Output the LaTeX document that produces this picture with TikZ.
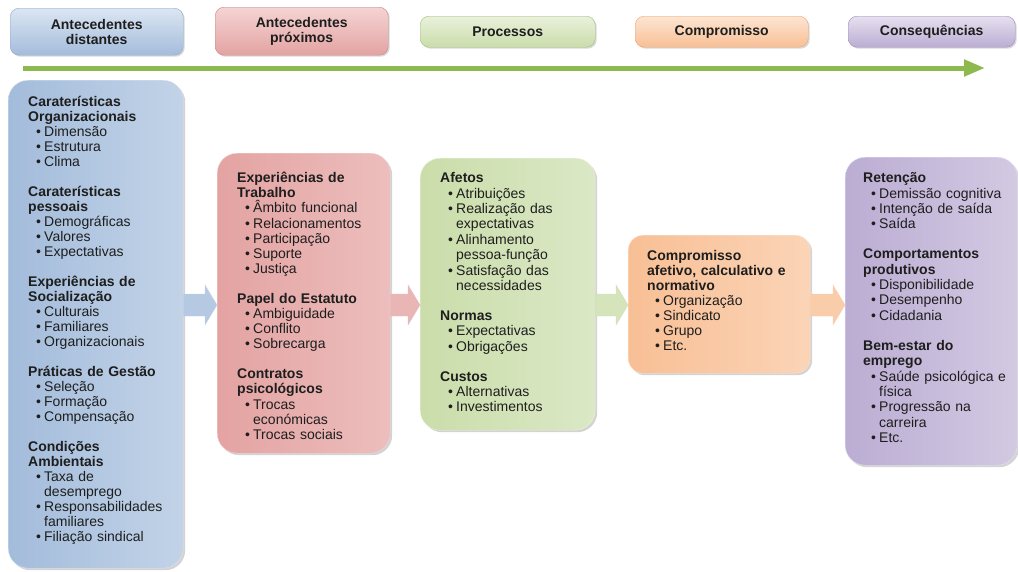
\documentclass[tikz,border=0pt]{standalone}
\usepackage{fontspec}
\setmainfont{Liberation Sans}
\usetikzlibrary{arrows.meta,shadows,calc}
\definecolor{blueD}{HTML}{A3BCDB}
\definecolor{blueL}{HTML}{DCE6F2}
\definecolor{blueB}{HTML}{8EA9CE}
\definecolor{redD}{HTML}{E3A3A2}
\definecolor{redL}{HTML}{F4D4D3}
\definecolor{redB}{HTML}{C98584}
\definecolor{grnD}{HTML}{CADDAA}
\definecolor{grnL}{HTML}{E9F1DC}
\definecolor{grnB}{HTML}{A4BF7A}
\definecolor{orgD}{HTML}{F8BF95}
\definecolor{orgL}{HTML}{FDE5D2}
\definecolor{orgB}{HTML}{EFA672}
\definecolor{purD}{HTML}{BBADD3}
\definecolor{purL}{HTML}{E6E0EF}
\definecolor{purB}{HTML}{9D8DBE}
\definecolor{tline}{HTML}{8DB94F}
\definecolor{ink}{HTML}{1E1E1E}
\setlength{\parindent}{0pt}
\setlength{\parskip}{0pt}
\newcommand{\secgap}{14.5pt}
\newcommand{\hd}[1]{\par\strut\textbf{#1}\par}
\newcommand{\sect}[1]{\par\vspace{\secgap}\hd{#1}}
\newcommand{\bu}[1]{{\leftskip=8pt\hangindent=8pt\hangafter=1\makebox[8pt][l]{\textbullet}#1\par}}
\begin{document}
\begin{tikzpicture}[x=1pt,y=-1pt,
        hdr/.style={rectangle,rounded corners=9pt,draw=#1B,top color=#1L,bottom color=#1D,
            drop shadow={shadow xshift=1.5pt,shadow yshift=-1.5pt,opacity=.3},
            anchor=north west,inner sep=0pt,align=center,text=ink,
            font=\bfseries\fontsize{14}{15.4}\selectfont},
        col/.style={rectangle,rounded corners=20pt,draw=#1L,left color=#1D,right color=#1L!55!#1D,
            drop shadow={shadow xshift=2pt,shadow yshift=-2pt,opacity=.35},
            anchor=north west,inner sep=0pt},
        txt/.style={anchor=north west,inner sep=0pt,text width=170pt,align=left,text=ink,
            font=\fontsize{14}{15.4}\selectfont},
        blkarr/.style={draw=#1B!50,top color=#1D!80,middle color=#1L!70,bottom color=#1D!80}]
    \useasboundingbox (0,0) rectangle (1018,571);
    \node[hdr=blue,minimum width=173pt,minimum height=47pt] (hDist) at (10,8) {Antecedentes\\distantes};
    \node[hdr=red,minimum width=173pt,minimum height=48pt] (hProx) at (215,7) {Antecedentes\\próximos};
    \node[hdr=grn,minimum width=175pt,minimum height=31pt] (hProc) at (420,16) {Processos};
    \node[hdr=org,minimum width=173pt,minimum height=31pt] (hComp) at (635,16) {Compromisso};
    \node[hdr=pur,minimum width=167pt,minimum height=31pt] (hCons) at (848,16) {Consequências};
    \coordinate (tlStart) at (23,68);
    \coordinate (tlEnd) at (985,68);
    \draw[tline,line width=5pt,-{Triangle[length=21pt,width=16pt]}] (tlStart) -- (tlEnd);
    \node[col=blue,minimum width=175pt,minimum height=488pt] (distBox) at (8,80) {};
    \node[col=red,minimum width=173pt,minimum height=300pt] (proxBox) at (217,153) {};
    \node[col=grn,minimum width=175pt,minimum height=272pt] (procBox) at (420,158) {};
    \node[col=org,rounded corners=15pt,minimum width=182pt,minimum height=138pt] (compBox) at (628,235) {};
    \node[col=pur,minimum width=172pt,minimum height=308pt] (consBox) at (845,157) {};
    \coordinate (axis) at (0,305);
    \draw[blkarr=blue] let \p1=(distBox.east |- axis), \p2=(proxBox.west |- axis) in (\x1,{\y1+11pt}) -- ({\x2-12pt},{\y1+11pt}) -- ({\x2-12pt},{\y1+20pt}) -- (\x2,\y1) -- ({\x2-12pt},{\y1-20pt}) -- ({\x2-12pt},{\y1-11pt}) -- (\x1,{\y1-11pt}) -- cycle;
    \draw[blkarr=red] let \p1=(proxBox.east |- axis), \p2=(procBox.west |- axis) in (\x1,{\y1+11pt}) -- ({\x2-12pt},{\y1+11pt}) -- ({\x2-12pt},{\y1+20pt}) -- (\x2,\y1) -- ({\x2-12pt},{\y1-20pt}) -- ({\x2-12pt},{\y1-11pt}) -- (\x1,{\y1-11pt}) -- cycle;
    \draw[blkarr=grn] let \p1=(procBox.east |- axis), \p2=(compBox.west |- axis) in (\x1,{\y1+11pt}) -- ({\x2-12pt},{\y1+11pt}) -- ({\x2-12pt},{\y1+20pt}) -- (\x2,\y1) -- ({\x2-12pt},{\y1-20pt}) -- ({\x2-12pt},{\y1-11pt}) -- (\x1,{\y1-11pt}) -- cycle;
    \draw[blkarr=org] let \p1=(compBox.east |- axis), \p2=(consBox.west |- axis) in (\x1,{\y1+11pt}) -- ({\x2-12pt},{\y1+11pt}) -- ({\x2-12pt},{\y1+20pt}) -- (\x2,\y1) -- ({\x2-12pt},{\y1-20pt}) -- ({\x2-12pt},{\y1-11pt}) -- (\x1,{\y1-11pt}) -- cycle;
    \node[txt,font=\fontsize{14}{15}\selectfont] (distTxt) at (28,91) {\renewcommand{\secgap}{15pt}%
        \hd{Caraterísticas\newline Organizacionais}
        \bu{Dimensão}\bu{Estrutura}\bu{Clima}
        \sect{Caraterísticas\newline pessoais}
        \bu{Demográficas}\bu{Valores}\bu{Expectativas}
        \sect{Experiências de\newline Socialização}
        \bu{Culturais}\bu{Familiares}\bu{Organizacionais}
        \sect{Práticas de Gestão}
        \bu{Seleção}\bu{Formação}\bu{Compensação}
        \sect{Condições\newline Ambientais}
        \bu{Taxa de\newline desemprego}\bu{Responsabilidades\newline familiares}\bu{Filiação sindical}};
    \node[txt,font=\fontsize{14}{15.2}\selectfont] (proxTxt) at (237,167) {%
        \hd{Experiências de\newline Trabalho}
        \bu{Âmbito funcional}\bu{Relacionamentos}\bu{Participação}\bu{Suporte}\bu{Justiça}
        \sect{Papel do Estatuto}
        \bu{Ambiguidade}\bu{Conflito}\bu{Sobrecarga}
        \sect{Contratos\newline psicológicos}
        \bu{Trocas\newline económicas}\bu{Trocas sociais}};
    \node[txt] (procTxt) at (440,167) {%
        \hd{Afetos}
        \bu{Atribuições}\bu{Realização das\newline expectativas}\bu{Alinhamento\newline pessoa-função}\bu{Satisfação das\newline necessidades}
        \sect{Normas}
        \bu{Expectativas}\bu{Obrigações}
        \sect{Custos}
        \bu{Alternativas}\bu{Investimentos}};
    \node[txt,font=\fontsize{14}{15}\selectfont] (compTxt) at (647,245) {%
        \hd{Compromisso\newline afetivo, calculativo e\newline normativo}
        \bu{Organização}\bu{Sindicato}\bu{Grupo}\bu{Etc.}};
    \node[txt] (consTxt) at (863,167) {%
        \hd{Retenção}
        \bu{Demissão cognitiva}\bu{Intenção de saída}\bu{Saída}
        \sect{Comportamentos\newline produtivos}
        \bu{Disponibilidade}\bu{Desempenho}\bu{Cidadania}
        \sect{Bem-estar do\newline emprego}
        \bu{Saúde psicológica e\newline física}\bu{Progressão na\newline carreira}\bu{Etc.}};
\end{tikzpicture}
\end{document}
